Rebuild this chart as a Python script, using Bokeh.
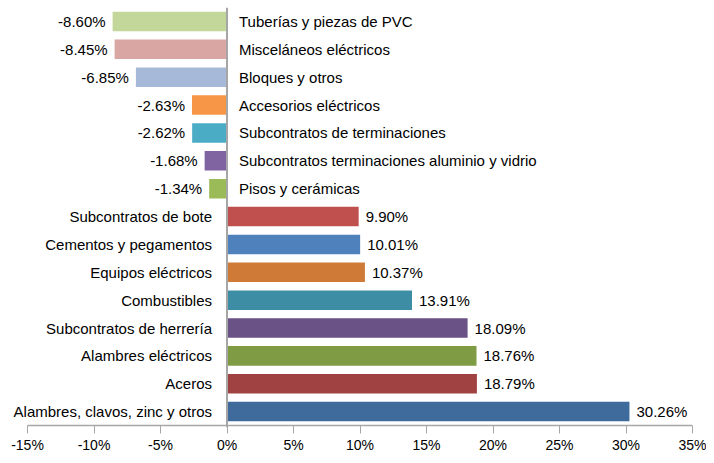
from bokeh.plotting import figure
from bokeh.models import ColumnDataSource, Range1d, Span, FixedTicker, PrintfTickFormatter, LabelSet
from bokeh.embed import file_html
from bokeh.resources import INLINE
from bokeh.core.properties import value

categories = [
    "Tuberías y piezas de PVC",
    "Misceláneos eléctricos",
    "Bloques y otros",
    "Accesorios eléctricos",
    "Subcontratos de terminaciones",
    "Subcontratos terminaciones aluminio y vidrio",
    "Pisos y cerámicas",
    "Subcontratos de bote",
    "Cementos y pegamentos",
    "Equipos eléctricos",
    "Combustibles",
    "Subcontratos de herrería",
    "Alambres eléctricos",
    "Aceros",
    "Alambres, clavos, zinc y otros",
]
values = [-8.60, -8.45, -6.85, -2.63, -2.62, -1.68, -1.34,
          9.90, 10.01, 10.37, 13.91, 18.09, 18.76, 18.79, 30.26]
colors = ["#C4D79B", "#D9A6A4", "#A7B9D9", "#F79646", "#4BACC6", "#8064A2", "#9BBB59",
          "#C0504D", "#4F81BD", "#CF7B37", "#3D8DA5", "#6A5287", "#7F9C45", "#A04241", "#3F6B9C"]
x_ticks = [-15, -10, -5, 0, 5, 10, 15, 20, 25, 30, 35]

FONT = "Liberation Sans"
n = len(categories)

# leave room at the left of the frame for the long category labels
x_start = x_ticks[0] - 27 / 13.3
p = figure(width=706, height=455, output_backend="svg", toolbar_location=None,
           y_range=Range1d(-0.57, n - 0.5),
           x_range=Range1d(x_start, x_ticks[-1]),
           min_border_left=0, min_border_right=14, min_border_top=7, min_border_bottom=24)

ypos = [n - 1 - i for i in range(n)]
src = ColumnDataSource(dict(cat=categories, val=values, color=colors, y=ypos,
                            lab=[f"{v:.2f}%" for v in values],
                            zero=[0] * n))
p.hbar(y="y", left=0, right="val", height=0.7, fill_color="color", line_color=None, source=src)

neg = [i for i, v in enumerate(values) if v < 0]
pos = [i for i, v in enumerate(values) if v >= 0]
def sub(idx):
    return ColumnDataSource({k: [src.data[k][i] for i in idx] for k in src.data})
sn, sp = sub(neg), sub(pos)

common = dict(text_font=value(FONT), text_font_size=value("15px"), text_color="#000000",
              text_baseline="middle")
p.add_layout(LabelSet(x="val", y="y", text="lab", source=sn, x_offset=-7, text_align="right", **common))
p.add_layout(LabelSet(x="val", y="y", text="lab", source=sp, x_offset=7, text_align="left", **common))
p.add_layout(LabelSet(x="zero", y="y", text="cat", source=sn, x_offset=12, text_align="left", **common))
p.add_layout(LabelSet(x="zero", y="y", text="cat", source=sp, x_offset=-15, text_align="right", **common))

p.add_layout(Span(location=0, dimension="height", line_color="#A6A6A6", line_width=2))

# axis line only between the first and last tick
p.segment(x0=[x_ticks[0]], x1=[x_ticks[-1]], y0=[-0.5], y1=[-0.5],
          line_color="#A6A6A6", line_width=1.5)

p.yaxis.visible = False
p.xgrid.visible = False
p.ygrid.visible = False
p.outline_line_color = None
p.xaxis.ticker = FixedTicker(ticks=x_ticks)
p.xaxis.formatter = PrintfTickFormatter(format="%d%%")
p.xaxis.axis_line_color = None
p.xaxis.major_tick_line_color = "#A6A6A6"
p.xaxis.major_tick_in = 2
p.xaxis.major_tick_out = 6
p.xaxis.minor_tick_line_color = None
p.xaxis.major_label_standoff = 3
p.xaxis.major_label_text_font = FONT
p.xaxis.major_label_text_font_size = "14px"
p.xaxis.major_label_text_color = "#000000"

open("out.html", "w").write(file_html(p, INLINE))
